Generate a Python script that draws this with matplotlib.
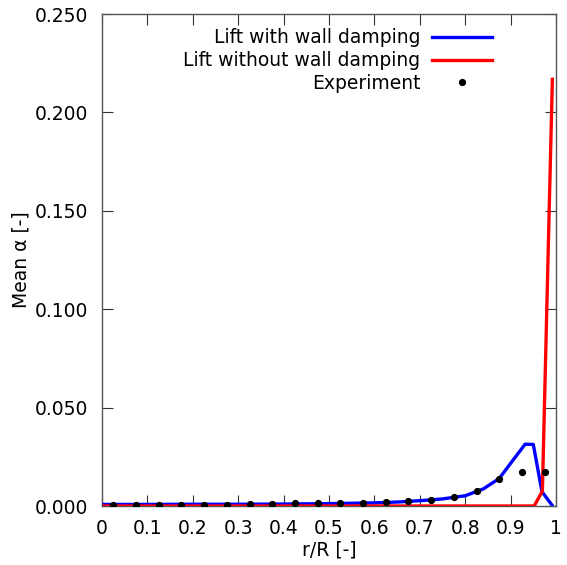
import numpy as np
import matplotlib
matplotlib.use("Agg")
import matplotlib.pyplot as plt

# --------- data ---------------------------------
r_wall = [0.005, 0.1, 0.2, 0.3, 0.4, 0.5, 0.6, 0.65, 0.7, 0.75, 0.8,
          0.84, 0.875, 0.905, 0.932, 0.950, 0.969, 0.991]
a_wall = [0.0008, 0.0008, 0.0009, 0.0009, 0.0010, 0.0012, 0.0016, 0.0020,
          0.0027, 0.0036, 0.0052, 0.0087, 0.0140, 0.0232, 0.0314, 0.0313,
          0.0073, 0.0005]

r_nowall = [0.005, 0.2, 0.4, 0.6, 0.8, 0.9, 0.952, 0.970, 0.992]
a_nowall = [0.0, 0.0, 0.0, 0.0, 0.0, 0.0, 0.0, 0.0076, 0.2168]

r_exp = [0.025, 0.075, 0.125, 0.175, 0.225, 0.275, 0.325, 0.375, 0.425, 0.475,
         0.525, 0.575, 0.625, 0.675, 0.725, 0.775, 0.825, 0.875, 0.925, 0.975]
a_exp = [0.0004, 0.0004, 0.0004, 0.0007, 0.0007, 0.0007, 0.0010, 0.0010,
         0.0014, 0.0014, 0.0017, 0.0017, 0.0021, 0.0025, 0.0033, 0.0044,
         0.0078, 0.0136, 0.0171, 0.0171]

xticks = [0, 0.1, 0.2, 0.3, 0.4, 0.5, 0.6, 0.7, 0.8, 0.9, 1]
xtick_labels = ["0", "0.1", "0.2", "0.3", "0.4", "0.5", "0.6", "0.7", "0.8", "0.9", "1"]
yticks = [0.0, 0.05, 0.10, 0.15, 0.20, 0.25]

fs = 13.5

fig = plt.figure(figsize=(5.67, 5.65), dpi=100)
# axes box: left 102 px, right 556 px, top 14 px, bottom 506 px
ax = fig.add_axes([102/567, 1 - 506/565, 454/567, 492/565])

ax.plot(r_wall, a_wall, color="#0000ff", lw=2.4, label="Lift with wall damping", zorder=3)
ax.plot(r_nowall, a_nowall, color="#ff0000", lw=2.4, label="Lift without wall damping", zorder=3)
ax.plot(r_exp, a_exp, "o", color="black", ms=4.2, label="Experiment", zorder=4)

ax.set_xlim(0, 1)
ax.set_ylim(0, 0.25)
ax.set_xticks(xticks)
ax.set_xticklabels(xtick_labels)
ax.set_yticks(yticks)
ax.set_yticklabels([f"{v:.3f}" for v in yticks])
ax.tick_params(direction="in", top=True, right=True, length=8, width=0.8,
               labelsize=fs, colors="#333333", labelcolor="black", pad=10)
ax.tick_params(axis="x", pad=9)
for s in ax.spines.values():
    s.set_color("#555555")
    s.set_linewidth(1.0)

ax.set_xlabel("r/R [-]", fontsize=fs, labelpad=2)
ax.set_ylabel("Mean α [-]", fontsize=fs, labelpad=3)

ax.legend(loc="upper right", frameon=False, markerfirst=False, fontsize=fs,
          handlelength=3.2, handletextpad=0.6, borderaxespad=0.0,
          labelspacing=0.2, bbox_to_anchor=(0.875, 0.986))

fig.savefig("out.png", dpi=100)
